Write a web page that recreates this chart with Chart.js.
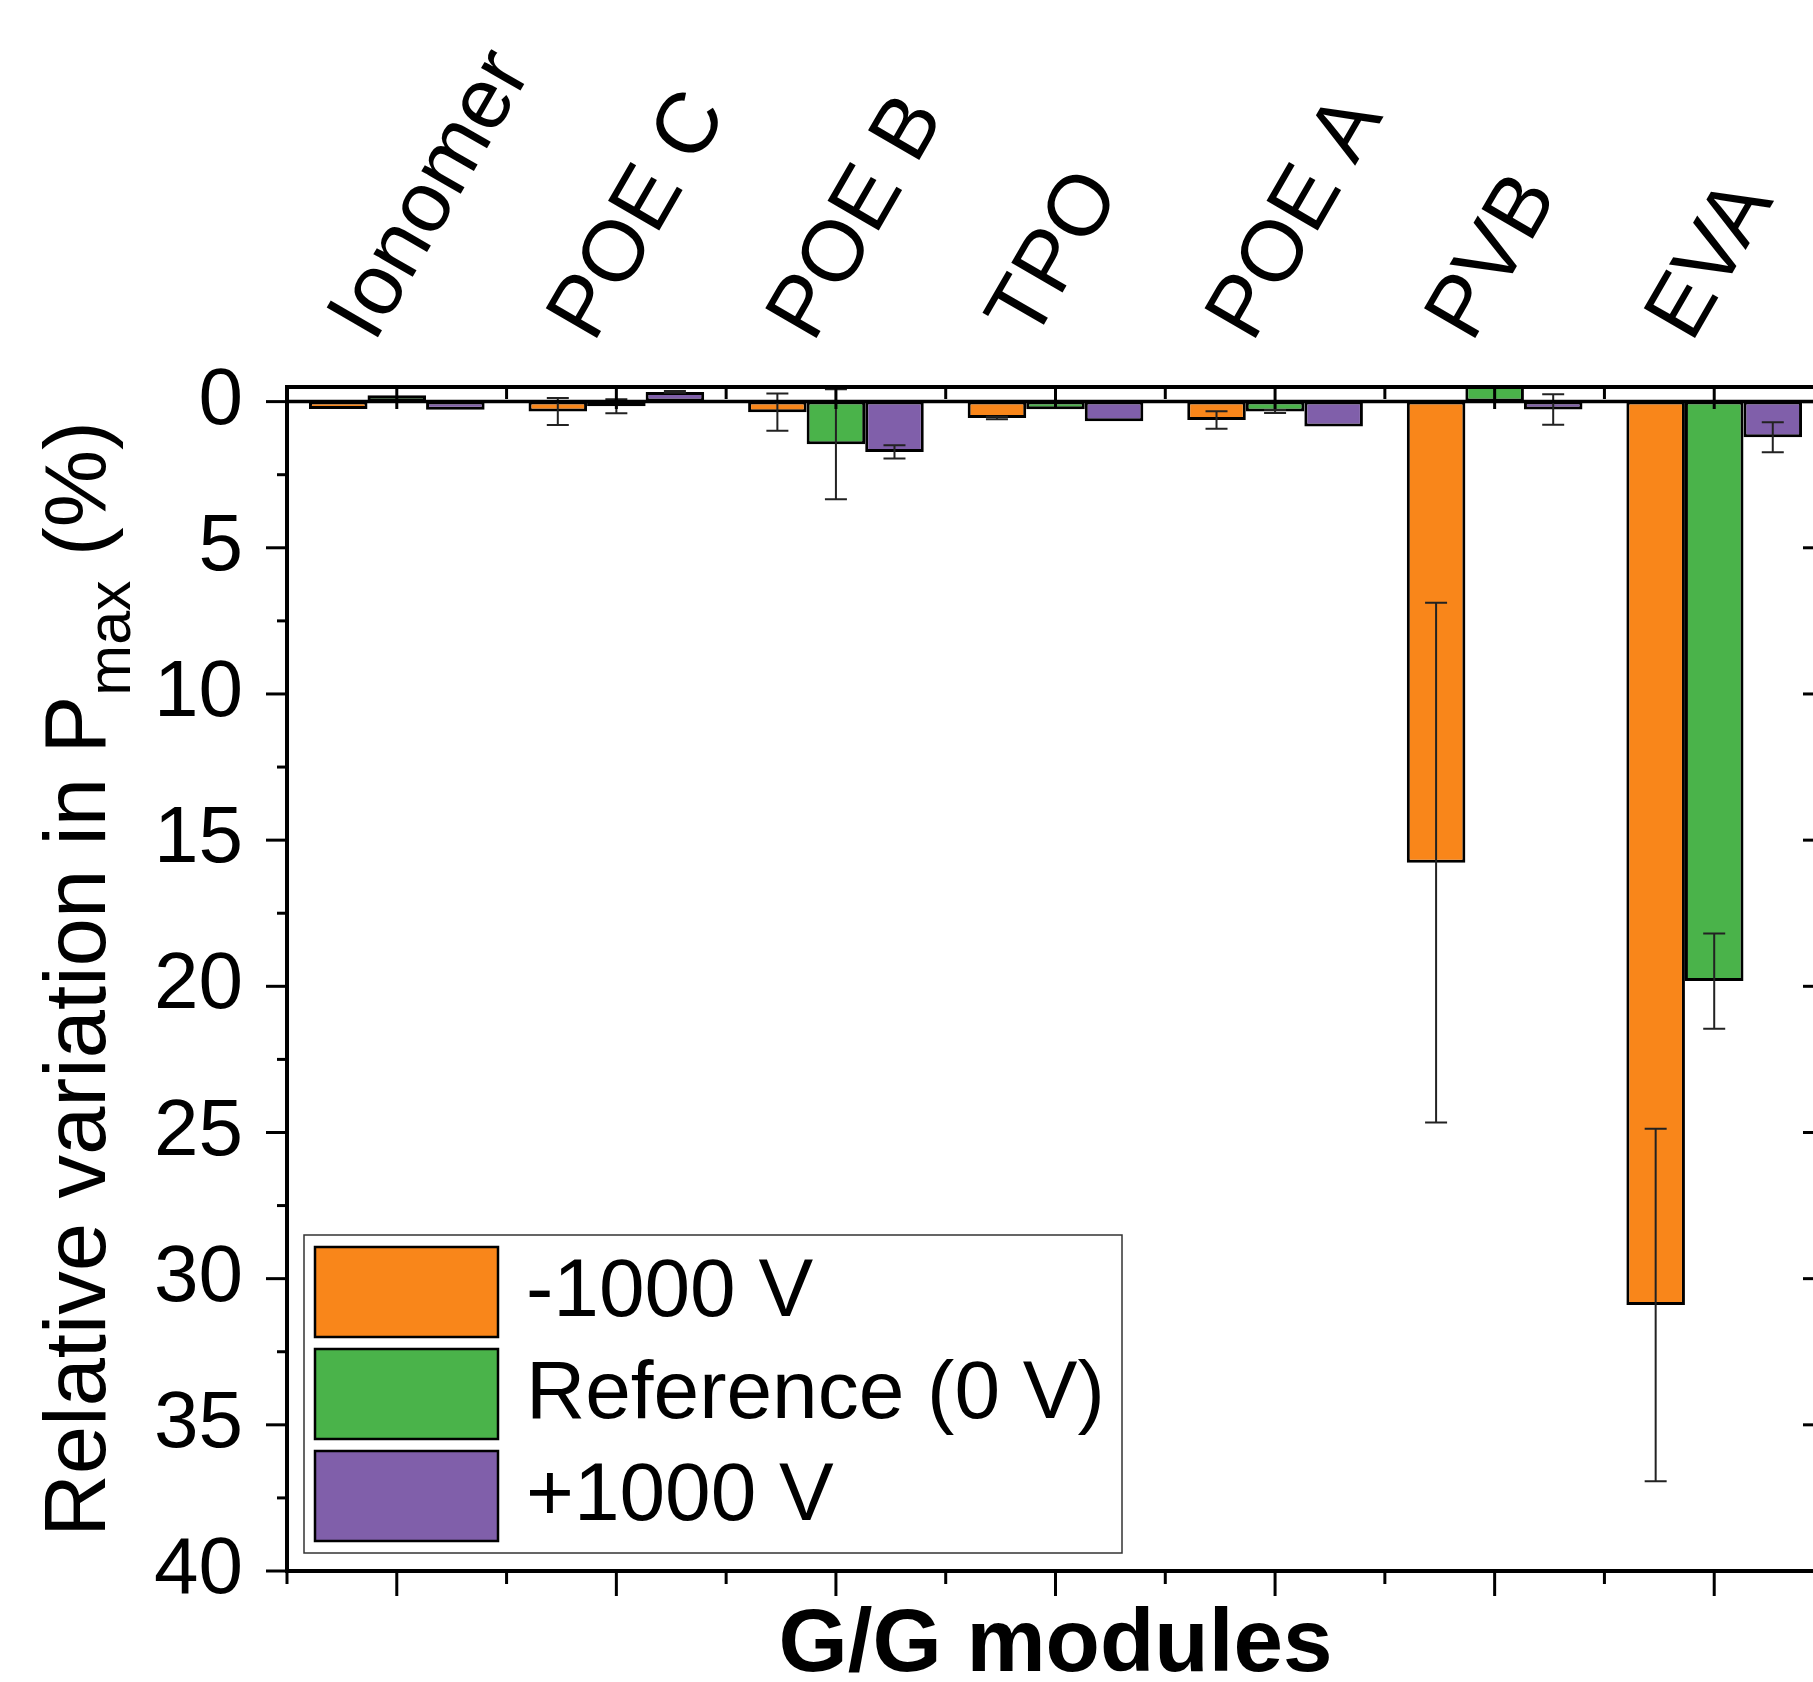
<!DOCTYPE html>
<html>
<head>
<meta charset="utf-8">
<script src="https://cdn.jsdelivr.net/npm/chart.js@4.4.1/dist/chart.umd.min.js"></script>
<style>
  html, body { margin: 0; padding: 0; background: #fff; overflow: hidden; }
  canvas { display: block; }
</style>
</head>
<body>
<canvas id="pmax-chart" width="1840" height="1682"></canvas>
<script>
const categories = ['Ionomer', 'POE C', 'POE B', 'TPO', 'POE A', 'PVB', 'EVA'];
const seriesNames = ['-1000 V', 'Reference (0 V)', '+1000 V'];
const seriesColors = ['#F9861A', '#4AB34A', '#805FAA'];

// relative variation in Pmax (%), axis runs downward so a loss is a positive value
const negValues = [0.25, 0.34, 0.36, 0.56, 0.63, 15.77, 30.9];
const negErrors = [0, 0.46, 0.64, 0.04, 0.30, 8.89, 6.03];
const refValues = [-0.22, 0.16, 1.46, 0.26, 0.34, -0.7, 19.82];
const refErrors = [0, 0.24, 1.88, 0, 0.05, 0, 1.63];
const posValues = [0.28, -0.33, 1.72, 0.67, 0.85, 0.27, 1.22];
const posErrors = [0, 0.03, 0.23, 0, 0, 0.52, 0.51];

const yTickValues = [0, 5, 10, 15, 20, 25, 30, 35, 40];

const FONT = "'Liberation Sans', Arial, Helvetica, sans-serif";
Chart.defaults.font.family = FONT;
Chart.defaults.color = '#000';

// vertical error bars with caps, drawn over the bars
const errorBarPlugin = {
    id: 'errorBars',
    afterDatasetsDraw ( chart ) {
        const ctx = chart.ctx, y = chart.scales.y, a = chart.chartArea;
        ctx.save();
        ctx.beginPath();
        ctx.rect( a.left, a.top, a.right - a.left, a.bottom - a.top );
        ctx.clip();
        ctx.strokeStyle = '#222';
        ctx.lineWidth = 2;
        chart.data.datasets.forEach( ( ds, i ) => {
            chart.getDatasetMeta( i ).data.forEach( ( bar, j ) => {
                const err = ds.errors[ j ];
                const v = ds.data[ j ];
                if ( !err || v < y.min || v > y.max ) return;
                const y1 = y.getPixelForValue( v - err ), y2 = y.getPixelForValue( v + err );
                const cap = 11;
                ctx.beginPath();
                ctx.moveTo( bar.x, y1 ); ctx.lineTo( bar.x, y2 );
                ctx.moveTo( bar.x - cap, y1 ); ctx.lineTo( bar.x + cap, y1 );
                ctx.moveTo( bar.x - cap, y2 ); ctx.lineTo( bar.x + cap, y2 );
                ctx.stroke();
            } );
        } );
        ctx.restore();
    }
};

// Origin-style box: thick frame, zero line, in/out major + minor ticks
const framePlugin = {
    id: 'originFrame',
    afterDraw ( chart ) {
        const ctx = chart.ctx, a = chart.chartArea, x = chart.scales.x, y = chart.scales.y;
        const line = ( x1, y1, x2, y2, w ) => {
            ctx.lineWidth = w;
            ctx.beginPath(); ctx.moveTo( x1, y1 ); ctx.lineTo( x2, y2 ); ctx.stroke();
        };
        ctx.save();
        ctx.strokeStyle = '#000';
        const y0 = y.getPixelForValue( 0 );
        line( a.left, y0, a.right, y0, 3.5 );
        yTickValues.forEach( ( v, k ) => {
            const py = y.getPixelForValue( v );
            line( a.left - 21, py, a.left, py, 3 );
            line( a.right, py, a.right - 21, py, 3 );
            if ( k < yTickValues.length - 1 ) {
                const pm = y.getPixelForValue( v + 2.5 );
                line( a.left - 10, pm, a.left, pm, 3 );
                line( a.right, pm, a.right - 10, pm, 3 );
            }
        } );
        categories.forEach( ( c, i ) => {
            const px = x.getPixelForValue( i );
            line( px, a.bottom, px, a.bottom + 25, 3 );
            line( px, a.top, px, a.top + 22, 3 );
        } );
        for ( let i = 0; i <= categories.length; i++ ) {
            const px = x.getPixelForValue( i - 0.5 );
            line( px, a.bottom, px, a.bottom + 13, 3 );
            line( px, a.top, px, a.top + 12, 3 );
        }
        ctx.lineWidth = 4;
        ctx.strokeRect( a.left, a.top, a.right - a.left, a.bottom - a.top );
        ctx.restore();
    }
};

// legend box sitting inside the plot, lower left
const boxLegendPlugin = {
    id: 'boxLegend',
    afterDraw ( chart ) {
        const ctx = chart.ctx;
        ctx.save();
        ctx.fillStyle = '#fff';
        ctx.fillRect( 304, 1235, 818, 318 );
        ctx.strokeStyle = '#333';
        ctx.lineWidth = 1.5;
        ctx.strokeRect( 304, 1235, 818, 318 );
        ctx.font = `82px ${ FONT }`;
        ctx.textBaseline = 'middle';
        chart.data.datasets.forEach( ( ds, i ) => {
            const sy = 1247 + i * 102;
            ctx.fillStyle = ds.backgroundColor;
            ctx.fillRect( 315, sy, 183, 90 );
            ctx.strokeStyle = '#000';
            ctx.lineWidth = 2.5;
            ctx.strokeRect( 315, sy, 183, 90 );
            ctx.fillStyle = '#000';
            ctx.fillText( ds.label, 526, sy + 46 );
        } );
        ctx.restore();
    }
};

// y title needs a subscript, so it is drawn by hand
const yTitlePlugin = {
    id: 'yTitle',
    afterDraw ( chart ) {
        const ctx = chart.ctx, a = chart.chartArea;
        const parts = [
            { t: 'Relative variation in P', f: `87px ${ FONT }`, dy: 0 },
            { t: 'max', f: `61px ${ FONT }`, dy: 25 },
            { t: ' (%)', f: `87px ${ FONT }`, dy: 0 }
        ];
        ctx.save();
        let total = 0;
        parts.forEach( p => { ctx.font = p.f; p.w = ctx.measureText( p.t ).width; total += p.w; } );
        ctx.translate( 105, ( a.top + a.bottom ) / 2 );
        ctx.rotate( -Math.PI / 2 );
        ctx.fillStyle = '#000';
        ctx.textAlign = 'left';
        ctx.textBaseline = 'alphabetic';
        let cx = -total / 2;
        parts.forEach( p => { ctx.font = p.f; ctx.fillText( p.t, cx, p.dy ); cx += p.w; } );
        ctx.restore();
    }
};

const mkSet = ( i, values, errors ) => ( {
    label: seriesNames[ i ],
    data: values,
    errors: errors,
    backgroundColor: seriesColors[ i ],
    borderColor: '#000',
    borderWidth: 3,
    borderSkipped: false,
    categoryPercentage: 0.8,
    barPercentage: 1.0,
    clip: 0
} );

new Chart( document.getElementById( 'pmax-chart' ), {
    type: 'bar',
    data: {
        labels: categories,
        datasets: [
            mkSet( 0, negValues, negErrors ),
            mkSet( 1, refValues, refErrors ),
            mkSet( 2, posValues, posErrors )
        ]
    },
    options: {
        responsive: false,
        animation: false,
        layout: { padding: { left: 0, right: 16, top: 0, bottom: 0 } },
        plugins: { legend: { display: false }, tooltip: { enabled: false } },
        scales: {
            x: {
                position: 'bottom',
                offset: true,
                grid: { display: false, drawTicks: false },
                border: { display: false },
                ticks: { display: false },
                title: {
                    display: true,
                    text: 'G/G modules',
                    color: '#000',
                    font: { size: 89, weight: 'bold', lineHeight: 0.8 },
                    padding: 0
                },
                afterFit: s => { s.height = 111; }
            },
            xTop: {
                type: 'category',
                position: 'top',
                offset: true,
                grid: { display: false, drawTicks: false },
                border: { display: false },
                ticks: {
                    autoSkip: false,
                    minRotation: 60,
                    maxRotation: 60,
                    padding: 29,
                    labelOffset: 46,
                    color: '#000',
                    font: { size: 86 }
                },
                afterFit: s => { s.height = 387; }
            },
            y: {
                reverse: true,
                min: -0.5,
                max: 40,
                grid: { display: false, drawTicks: false },
                border: { display: false },
                ticks: { color: '#000', padding: 44, font: { size: 80 } },
                afterBuildTicks: s => { s.ticks = yTickValues.map( v => ( { value: v } ) ); },
                afterFit: s => { s.width = 287; }
            }
        }
    },
    plugins: [ errorBarPlugin, framePlugin, boxLegendPlugin, yTitlePlugin ]
} );
</script>
</body>
</html>
